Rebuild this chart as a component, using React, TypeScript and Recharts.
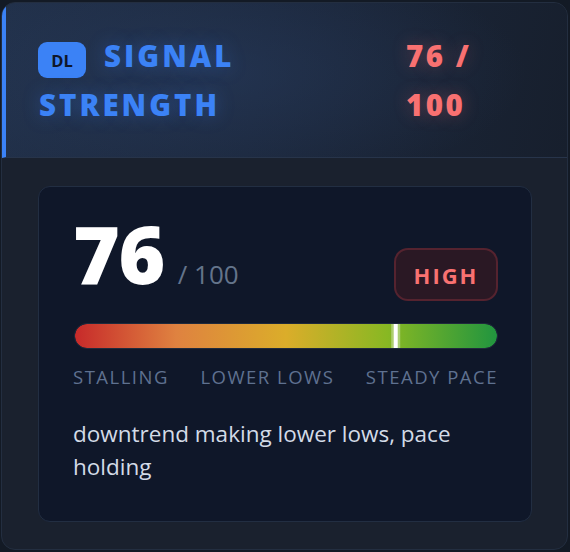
import { BarChart, Bar, XAxis, YAxis, ReferenceLine } from "recharts";

const gaugeCategories = ["Signal"];
const gaugeMax = [100];
const scoreValue = 76;
const scoreMax = 100;
const levelLabel = "HIGH";
const badgeLabel = "DL";
const titleText = "SIGNAL STRENGTH";
const zoneLabels = ["STALLING", "LOWER LOWS", "STEADY PACE"];
const description = "downtrend making lower lows, pace holding";

const gradientStops = [
  { offset: "0%", color: "#c72a2a" },
  { offset: "24%", color: "#df8240" },
  { offset: "50%", color: "#dbad2a" },
  { offset: "74%", color: "#88b823" },
  { offset: "100%", color: "#21953f" },
];

const gaugeData = gaugeCategories.map((name, i) => ({ name, max: gaugeMax[i] }));

const font = "'Open Sans', 'Noto Sans', sans-serif";

export default function App() {
  const words = titleText.split(" ");
  return (
    <div style={{ position: "relative", width: 570, height: 552, fontFamily: font, background: "#131a25" }}>
      <style>{`body{margin:0;background:#131a25}`}</style>
      <div
        style={{
          position: "absolute",
          left: 1,
          top: 2,
          width: 567,
          height: 548,
          boxSizing: "border-box",
          border: "1px solid #232e40",
          borderRadius: 14,
          background: "#1a212e",
          overflow: "hidden",
        }}
      >
        {/* header */}
        <div
          style={{
            position: "absolute",
            left: 0,
            top: 0,
            width: 567,
            height: 155,
            boxSizing: "border-box",
            borderLeft: "4px solid #3b82f6",
            borderBottom: "1px solid #27344a",
            background:
              "radial-gradient(ellipse 320px 120px at 200px 70px, rgba(40,60,95,0.55), rgba(40,60,95,0) 100%), linear-gradient(100deg, #213049 0%, #1c283d 45%, #171f2d 100%)",
          }}
        >
          <div
            style={{
              position: "absolute",
              left: 32,
              top: 39,
              width: 48,
              height: 36,
              borderRadius: 9,
              background: "#3b82f6",
              color: "#0f172a",
              fontSize: 16.5,
              fontWeight: 700,
              display: "flex",
              alignItems: "center",
              justifyContent: "center",
            }}
          >
            {badgeLabel}
          </div>
          <div
            style={{
              position: "absolute",
              left: 33,
              top: 28,
              width: 300,
              textIndent: 65,
              fontSize: 29.5,
              fontWeight: 800,
              letterSpacing: 3,
              lineHeight: "49px",
              color: "#3b82f6",
              textShadow: "0 0 18px rgba(59,130,246,0.35)",
            }}
          >
            {words.map((w, i) => (
              <span key={w}>
                {w}
                {i < words.length - 1 ? " " : ""}
              </span>
            ))}
          </div>
          <div
            style={{
              position: "absolute",
              left: 400,
              top: 28,
              width: 100,
              fontSize: 29.5,
              fontWeight: 800,
              letterSpacing: 2.5,
              lineHeight: "49px",
              color: "#f87171",
              textShadow: "0 0 18px rgba(248,113,113,0.3)",
            }}
          >
            {scoreValue} / {scoreMax}
          </div>
        </div>

        {/* inner panel */}
        <div
          style={{
            position: "absolute",
            left: 36,
            top: 183,
            width: 494,
            height: 336,
            boxSizing: "border-box",
            border: "1px solid #222e42",
            borderRadius: 12,
            background: "#0f1729",
          }}
        >
          <div
            style={{
              position: "absolute",
              left: 34,
              top: 16,
              display: "flex",
              alignItems: "baseline",
              color: "#ffffff",
            }}
          >
            <span style={{ fontSize: 80, fontWeight: 800, lineHeight: "100px", letterSpacing: -1.5 }}>{scoreValue}</span>
            <span style={{ fontSize: 26, fontWeight: 400, color: "#64748b", marginLeft: 14 }}>/ {scoreMax}</span>
          </div>
          <div
            style={{
              position: "absolute",
              left: 355,
              top: 61,
              width: 104,
              height: 53,
              boxSizing: "border-box",
              border: "2px solid #55232f",
              borderRadius: 14,
              background: "#2a1824",
              color: "#f87171",
              fontSize: 22,
              fontWeight: 700,
              letterSpacing: 2,
              display: "flex",
              alignItems: "center",
              justifyContent: "center",
            }}
          >
            {levelLabel}
          </div>

          {/* gauge bar */}
          <div
            style={{
              position: "absolute",
              left: 35,
              top: 136,
              width: 424,
              height: 26,
              boxSizing: "border-box",
              border: "1px solid #1f2a3c",
              borderRadius: 13,
              overflow: "hidden",
            }}
          >
            <BarChart
              width={422}
              height={24}
              data={gaugeData}
              layout="vertical"
              margin={{ top: 0, right: 0, bottom: 0, left: 0 }}
              barCategoryGap={0}
            >
              <defs>
                <linearGradient id="gaugeGrad" x1="0" y1="0" x2="1" y2="0">
                  {gradientStops.map((s) => (
                    <stop key={s.offset} offset={s.offset} stopColor={s.color} />
                  ))}
                </linearGradient>
              </defs>
              <XAxis type="number" domain={[0, scoreMax]} hide />
              <YAxis type="category" dataKey="name" hide />
              <Bar dataKey="max" fill="url(#gaugeGrad)" radius={[12, 12, 12, 12]} isAnimationActive={false} />
              <ReferenceLine x={scoreValue} stroke="rgba(255,255,255,0.35)" strokeWidth={9} />
              <ReferenceLine x={scoreValue} stroke="#ffffff" strokeWidth={4} />
            </BarChart>
          </div>

          {/* zone labels */}
          <div
            style={{
              position: "absolute",
              left: 34,
              top: 178,
              width: 425,
              display: "flex",
              justifyContent: "space-between",
              fontSize: 18.5,
              letterSpacing: 1.5,
              color: "#5f7190",
              lineHeight: "24px",
            }}
          >
            {zoneLabels.map((l) => (
              <span key={l}>{l}</span>
            ))}
          </div>

          <div
            style={{
              position: "absolute",
              left: 34,
              top: 230,
              width: 425,
              fontSize: 22.5,
              lineHeight: "33px",
              color: "#d3dbe7",
            }}
          >
            {description}
          </div>
        </div>
      </div>
    </div>
  );
}
